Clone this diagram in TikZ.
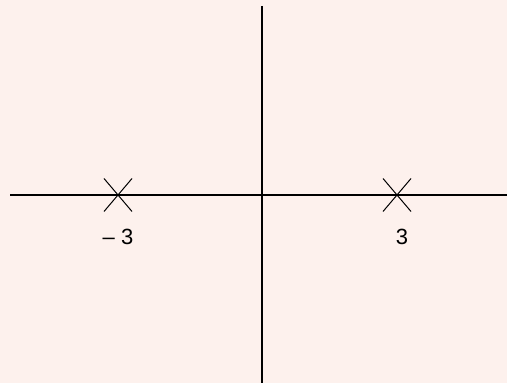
\documentclass[tikz,border=0pt]{standalone}
\usepackage{fontspec}
\setmainfont{Liberation Sans}
\usetikzlibrary{positioning,shapes.misc}
\definecolor{bgpink}{RGB}{253,241,237}

\begin{document}
\begin{tikzpicture}[
    x=0.5pt, y=-0.5pt,
    axis/.style={draw=black, line width=0.6pt},
    pole/.style={draw, cross out, inner sep=0pt, minimum width=13.5pt,
        minimum height=16pt, line width=0.5pt},
    lbl/.style={inner sep=0pt, font=\fontsize{11}{13}\selectfont}
]
\fill[bgpink] (0,0) rectangle (507,383);
\useasboundingbox (0,0) rectangle (507,383);

% axes
\coordinate (xl) at (10,195);
\coordinate (xr) at (507,195);
\coordinate (yt) at (262,6);
\coordinate (yb) at (262,383);
\draw[axis] (xl) -- (xr);
\draw[axis] (yt) -- (yb);

% poles
\node[pole] (pminus) at (118,195) {};
\node[pole] (pplus) at (397,195) {};
\node[lbl, below=8.5pt of pminus] (lminus) {– 3};
\node[lbl, below=8.5pt of pplus, xshift=2.5pt] (lplus) {3};
\end{tikzpicture}
\end{document}
